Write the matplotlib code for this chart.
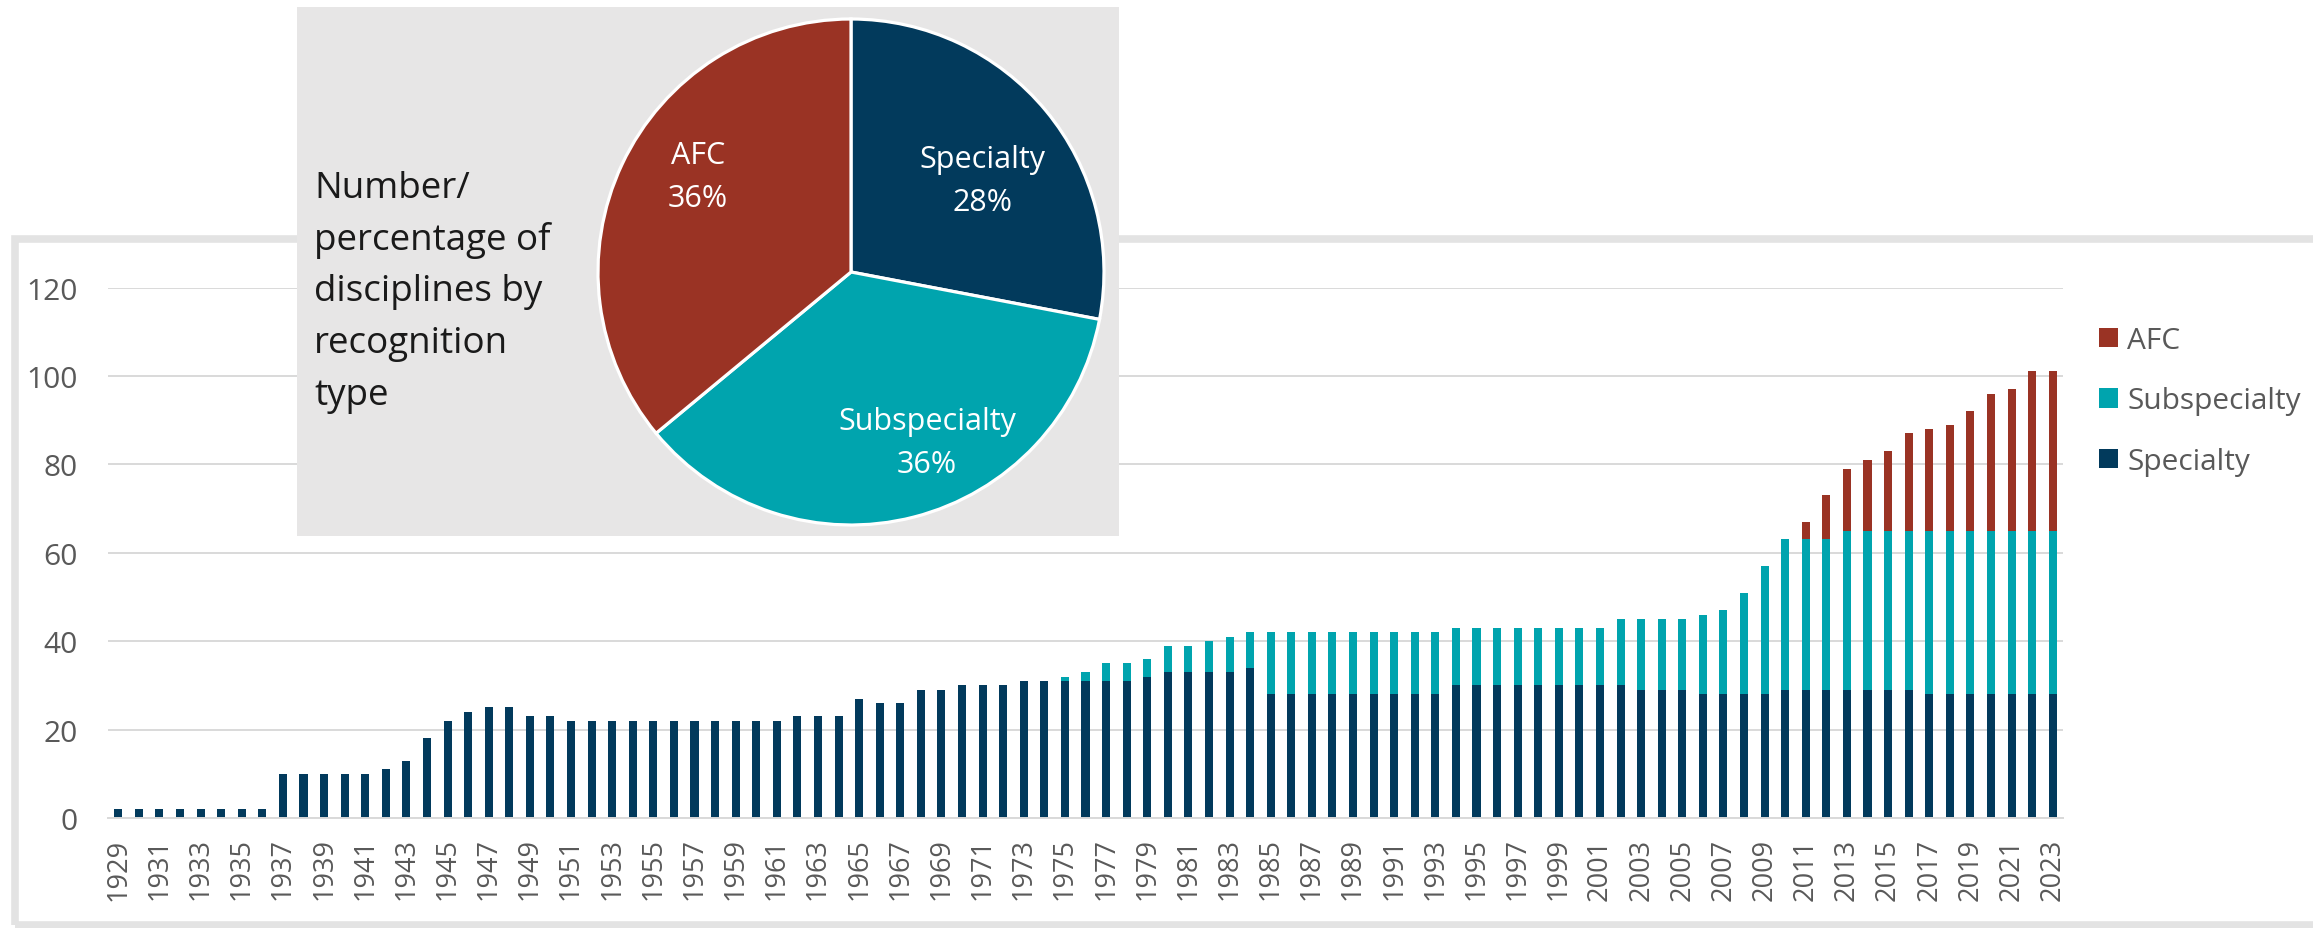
import matplotlib
matplotlib.use("Agg")
import matplotlib.pyplot as plt
import numpy as np
from matplotlib.patches import Rectangle

plt.rcParams['font.family'] = ['Open Sans', 'DejaVu Sans']

# --- data ---
years = list(range(1929, 2024))

specialty = [2, 2, 2, 2, 2, 2, 2, 2,                      # 1929-1936
             10, 10, 10, 10, 10, 11, 13, 18, 22, 24,      # 1937-1946
             25, 25, 23, 23, 22, 22, 22, 22, 22, 22,      # 1947-1956
             22, 22, 22, 22, 22, 23, 23, 23, 27, 26,      # 1957-1966
             26, 29, 29, 30, 30, 30, 31, 31, 31, 31,      # 1967-1976
             31, 31, 32, 33, 33, 33, 33, 34, 28, 28,      # 1977-1986
             28, 28, 28, 28, 28, 28, 28, 30, 30, 30,      # 1987-1996
             30, 30, 30, 30, 30, 30, 29, 29, 29, 28,      # 1997-2006
             28, 28, 28, 29, 29, 29, 29, 29, 29, 29,      # 2007-2016
             28, 28, 28, 28, 28, 28, 28]                  # 2017-2023

subspecialty = [0, 0, 0, 0, 0, 0, 0, 0,                   # 1929-1936
                0, 0, 0, 0, 0, 0, 0, 0, 0, 0,             # 1937-1946
                0, 0, 0, 0, 0, 0, 0, 0, 0, 0,             # 1947-1956
                0, 0, 0, 0, 0, 0, 0, 0, 0, 0,             # 1957-1966
                0, 0, 0, 0, 0, 0, 0, 0, 1, 2,             # 1967-1976
                4, 4, 4, 6, 6, 7, 8, 8, 14, 14,           # 1977-1986
                14, 14, 14, 14, 14, 14, 14, 13, 13, 13,   # 1987-1996
                13, 13, 13, 13, 13, 15, 16, 16, 16, 18,   # 1997-2006
                19, 23, 29, 34, 34, 34, 36, 36, 36, 36,   # 2007-2016
                37, 37, 37, 37, 37, 37, 37]               # 2017-2023

afc = [0, 0, 0, 0, 0, 0, 0, 0,                            # 1929-1936
       0, 0, 0, 0, 0, 0, 0, 0, 0, 0,                      # 1937-1946
       0, 0, 0, 0, 0, 0, 0, 0, 0, 0,                      # 1947-1956
       0, 0, 0, 0, 0, 0, 0, 0, 0, 0,                      # 1957-1966
       0, 0, 0, 0, 0, 0, 0, 0, 0, 0,                      # 1967-1976
       0, 0, 0, 0, 0, 0, 0, 0, 0, 0,                      # 1977-1986
       0, 0, 0, 0, 0, 0, 0, 0, 0, 0,                      # 1987-1996
       0, 0, 0, 0, 0, 0, 0, 0, 0, 0,                      # 1997-2006
       0, 0, 0, 0, 4, 10, 14, 16, 18, 22,                 # 2007-2016
       23, 24, 27, 31, 32, 36, 36]                        # 2017-2023

pie_labels = ["Specialty", "Subspecialty", "AFC"]
pie_share = [28, 36, 36]

navy = "#023a5c"
teal = "#00a4ae"
brick = "#9a3324"
grey_txt = "#595959"
grid_col = "#d9d9d9"

W, H = 2313, 929
fig = plt.figure(figsize=(W / 100, H / 100), dpi=100)
fig.patch.set_facecolor("white")


def fx(px):
    return px / W


def fy(py):
    return 1 - py / H


# outer chart frame (runs off the right edge like the screenshot)
fig.add_artist(Rectangle((fx(14.5), fy(926)), fx(2400) - fx(14.5), fy(240) - fy(926),
                         transform=fig.transFigure, fill=False, ec="#e3e3e3", lw=5.5,
                         zorder=0.5))

# --- stacked bars ---
ax = fig.add_axes([fx(108), fy(819), fx(2063) - fx(108), fy(288.5) - fy(819)])
x = np.arange(len(years))
spec = np.array(specialty)
sub = np.array(subspecialty)
bw = 0.39
b_spec = ax.bar(x, spec, bw, color=navy, label="Specialty", zorder=2)
b_sub = ax.bar(x, sub, bw, bottom=spec, color=teal, label="Subspecialty", zorder=2)
b_afc = ax.bar(x, afc, bw, bottom=spec + sub, color=brick, label="AFC", zorder=2)

ax.set_xlim(-0.5, len(years) - 0.5)
ax.set_ylim(0, 120)
ax.set_yticks(range(0, 121, 20))
ax.set_xticks(x[::2])
ax.set_xticklabels([str(y) for y in years[::2]], rotation=90)
ax.yaxis.grid(True, color=grid_col, lw=1.4)
ax.set_axisbelow(True)
for s in ["top", "right", "left"]:
    ax.spines[s].set_visible(False)
ax.spines["bottom"].set_color(grid_col)
ax.spines["bottom"].set_linewidth(1.4)
ax.tick_params(axis="y", length=0, pad=22, labelsize=21.5, labelcolor=grey_txt)
ax.tick_params(axis="x", length=0, pad=14, labelsize=19.5, labelcolor=grey_txt)

fig.legend(handles=[b_afc, b_sub, b_spec], labels=["AFC", "Subspecialty", "Specialty"],
           loc="upper left", bbox_to_anchor=(fx(2099), fy(327)), frameon=False,
           fontsize=21.5, handlelength=0.62, handleheight=0.62, handletextpad=0.33,
           labelspacing=1.05, borderpad=0, borderaxespad=0, labelcolor=grey_txt)

# --- grey inset with the pie ---
fig.add_artist(Rectangle((fx(297), fy(537)), fx(1119) - fx(297), fy(8) - fy(537),
                         transform=fig.transFigure, facecolor="#e7e6e6", edgecolor="none",
                         zorder=1))

R, pad = 253, 8
cx, cy = 851, 273
pax = fig.add_axes([fx(cx - R - pad), fy(cy + R + pad), 2 * (R + pad) / W, 2 * (R + pad) / H],
                   zorder=2)
pax.pie(pie_share, colors=[navy, teal, brick], startangle=90, counterclock=False,
        wedgeprops=dict(edgecolor="white", linewidth=2.3))
lim = (R + pad) / R
pax.set_xlim(-lim, lim)
pax.set_ylim(-lim, lim)
pax.set_aspect("equal")
pax.axis("off")

# slice labels: centre x and the two baselines, in pixels
label_pos = {"Specialty": (982, 168), "Subspecialty": (927, 430), "AFC": (698, 164)}
for name, share in zip(pie_labels, pie_share):
    lx, ly = label_pos[name]
    for i, line in enumerate([name, f"{share}%"]):
        fig.text(fx(lx), fy(ly + i * 43), line, ha="center", va="baseline",
                 fontsize=22, color="white", zorder=4)

title_lines = ["Number/", "percentage of", "disciplines by", "recognition", "type"]
for i, line in enumerate(title_lines):
    fig.text(fx(314), fy(198 + i * 51.7), line, ha="left", va="baseline",
             fontsize=26.5, color="#1a1a1a", zorder=4)

fig.savefig("out.png", dpi=100, facecolor="white")
